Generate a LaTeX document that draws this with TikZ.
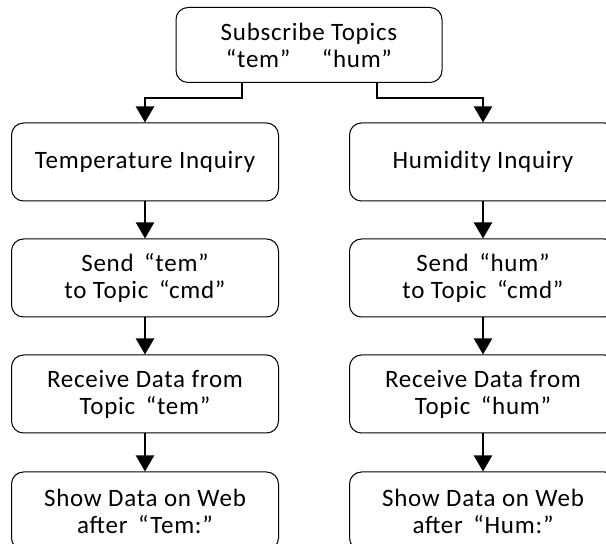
\documentclass[tikz,border=0pt]{standalone}
\usepackage{fontspec}
\setmainfont{Carlito}[LetterSpace=3]
\usetikzlibrary{arrows.meta}

\tikzset{
  stepbox/.style={draw=black, line width=0.5pt, rounded corners=6pt,
    minimum width=133.5pt, minimum height=39pt, align=center,
    font=\fontsize{12.5}{13.5}\selectfont, inner sep=2pt},
  flow/.style={-{Triangle[width=9pt,length=8pt]}, line width=1pt}
}

\begin{document}
\begin{tikzpicture}[x=0.5pt, y=-0.5pt]

\useasboundingbox (0,0) rectangle (606,544);
\clip (0,0) rectangle (606,544);

%%% Top: subscription
\node[stepbox, minimum width=133pt, minimum height=37.5pt] (sub) at (309,45)
  {Subscribe Topics\\“tem”\quad\ “hum”};

% split points under the top box
\coordinate (splitL) at (242,98);
\coordinate (splitR) at (377,98);

%%% Left column: temperature
\node[stepbox] (temInq)  at (145,162) {Temperature Inquiry};
\node[stepbox] (temSend) at (145,278) {Send \,“tem”\\to Topic \,“cmd”};
\node[stepbox] (temRecv) at (145,394) {Receive Data from\\Topic \,“tem”};
\node[stepbox] (temShow) at (145,511) {Show Data on Web\\after \,“Tem:”};

%%% Right column: humidity
\node[stepbox] (humInq)  at (483,162) {Humidity Inquiry};
\node[stepbox] (humSend) at (483,278) {Send \,“hum”\\to Topic \,“cmd”};
\node[stepbox] (humRecv) at (483,394) {Receive Data from\\Topic \,“hum”};
\node[stepbox] (humShow) at (483,511) {Show Data on Web\\after \,“Hum:”};

%%% Connectors
\draw[flow] (splitL |- sub.south) -- (splitL) -| (temInq.north);
\draw[flow] (splitR |- sub.south) -- (splitR) -| (humInq.north);

\draw[flow] (temInq) -- (temSend);
\draw[flow] (temSend) -- (temRecv);
\draw[flow] (temRecv) -- (temShow);

\draw[flow] (humInq) -- (humSend);
\draw[flow] (humSend) -- (humRecv);
\draw[flow] (humRecv) -- (humShow);

\end{tikzpicture}
\end{document}
